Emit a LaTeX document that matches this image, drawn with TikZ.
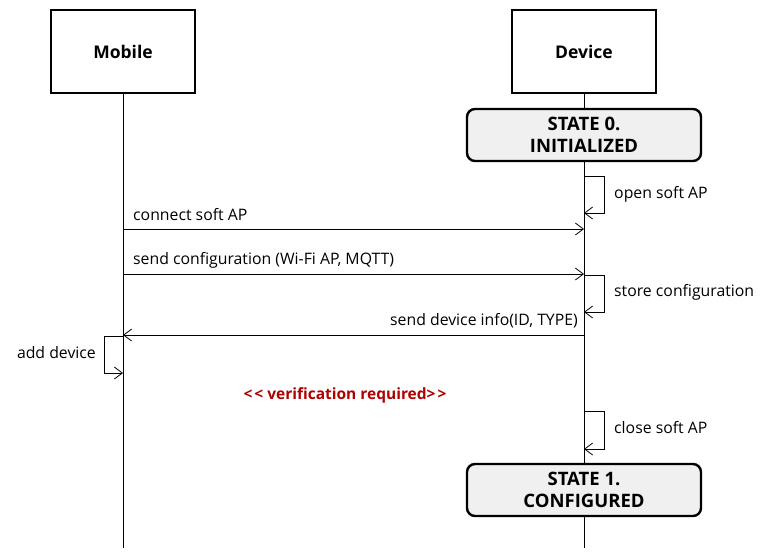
\documentclass[tikz,border=0pt]{standalone}
\usepackage{fontspec}
\setmainfont{Open Sans}
\usetikzlibrary{arrows.meta}
\definecolor{stategray}{RGB}{240,240,240}
\definecolor{verired}{RGB}{176,0,0}
\tikzset{
  actor/.style={draw, line width=2.4pt, minimum width=144pt, minimum height=83pt, font=\fontsize{17.5}{21}\selectfont\bfseries, inner sep=0pt},
  statebox/.style={draw, line width=2.4pt, rounded corners=8pt, fill=stategray, minimum width=234pt, minimum height=52pt, font=\fontsize{18.5}{22}\selectfont\bfseries, align=center, inner sep=0pt},
  life/.style={line width=0.8pt},
  msg/.style={line width=0.8pt, -{Straight Barb[length=8pt,width=12pt,line width=0.8pt]}},
  lbl/.style={font=\fontsize{15.8}{18}\selectfont, inner sep=0pt},
}
\begin{document}
\begin{tikzpicture}[x=1pt,y=-1pt]
\useasboundingbox (0,0) rectangle (775,558);
\node[actor] (mob) at (123,51.5) {Mobile};
\node[actor] (dev) at (584,51.5) {Device};
\coordinate (mobend) at (123,548);
\coordinate (devend) at (584,548);
\draw[life] (mob.south) -- (mobend);
\draw[life] (dev.south) -- (devend);
\node[statebox] (s0) at (584,135) {STATE 0.\\INITIALIZED};
\node[statebox] (s1) at (584,490) {STATE 1.\\CONFIGURED};
% open soft AP
\coordinate (o1) at (584,176);
\coordinate (o2) at (584,213);
\draw[msg] (o1) -- (604,176) -- (604,213) -- (o2);
\node[lbl, anchor=west] (lopen) at (614,194) {open soft AP};
% connect soft AP
\coordinate (c1) at (123,229);
\coordinate (c2) at (584,229);
\draw[msg] (c1) -- (c2);
\node[lbl, anchor=west] (lconn) at (133,215) {connect soft AP};
% send configuration
\coordinate (sc1) at (123,274);
\coordinate (sc2) at (584,274);
\draw[msg] (sc1) -- (sc2);
\node[lbl, anchor=west] (lsend) at (133,260) {send configuration (Wi-Fi AP, MQTT)};
% store configuration
\coordinate (st1) at (584,275);
\coordinate (st2) at (584,312);
\draw[msg] (st1) -- (604,275) -- (604,312) -- (st2);
\node[lbl, anchor=west] (lstore) at (614,292) {store configuration};
% send device info
\coordinate (di1) at (584,335);
\coordinate (di2) at (123,335);
\draw[msg] (di1) -- (di2);
\node[lbl, anchor=east] (linfo) at (578,321) {send device info(ID, TYPE)};
% add device
\coordinate (ad1) at (123,336);
\coordinate (ad2) at (123,373);
\draw[msg] (ad1) -- (104,336) -- (104,373) -- (ad2);
\node[lbl, anchor=east] (ladd) at (96,353) {add device};
% verification
\node[font=\fontsize{15.5}{18}\selectfont\bfseries, text=verired, inner sep=0pt] (ver) at (345,395) {{<}\kern2pt{<} verification required{>}\kern2pt{>}};
% close soft AP
\coordinate (cl1) at (584,411);
\coordinate (cl2) at (584,449);
\draw[msg] (cl1) -- (604,411) -- (604,449) -- (cl2);
\node[lbl, anchor=west] (lclose) at (614,428) {close soft AP};
\end{tikzpicture}
\end{document}
